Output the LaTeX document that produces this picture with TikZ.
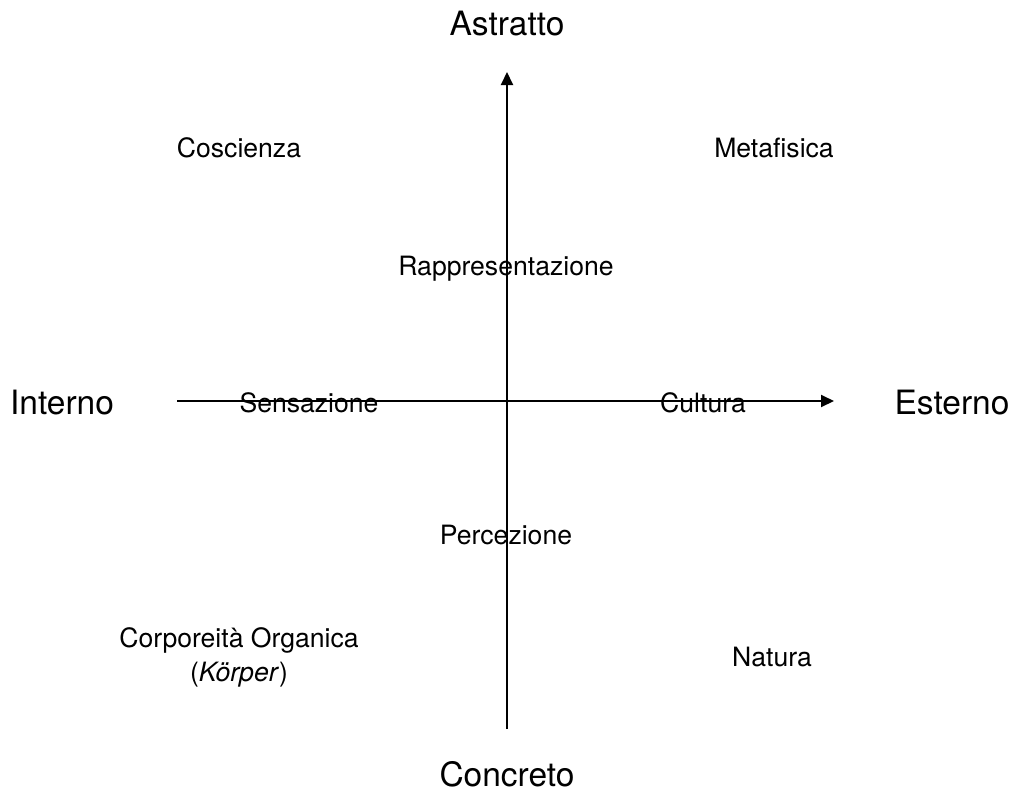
\documentclass[tikz,border=0pt]{standalone}
\usepackage{fontspec}
\setmainfont{TeX Gyre Heros}
\usetikzlibrary{arrows.meta}
\begin{document}
\begin{tikzpicture}[x=1pt,y=-1pt,
  axis/.style={line width=2pt,-{Triangle[length=13pt,width=12pt]}},
  big/.style={font=\fontsize{33.5}{40}\selectfont,inner sep=0pt},
  lab/.style={font=\fontsize{26.6}{34}\selectfont,inner sep=0pt,align=center}]
\useasboundingbox (0,0) rectangle (1013,793);
\coordinate (bot) at (507,729);
\coordinate (top) at (507,72);
\coordinate (lft) at (177,401);
\coordinate (rgt) at (834,401);
\draw[axis] (bot) -- (top);
\draw[axis] (lft) -- (rgt);
\node[big] (astr) at (507,24) {Astratto};
\node[big] (conc) at (507,774) {Concreto};
\node[big] (int) at (62,403) {Interno};
\node[big] (est) at (952,403) {Esterno};
\node[lab] (cos) at (239,148) {Coscienza};
\node[lab] (met) at (774,148) {Metafisica};
\node[lab] (rap) at (506,269) {Rappresentazione};
\node[lab] (sen) at (309,403) {Sensazione};
\node[lab] (cul) at (703,403) {Cultura};
\node[lab] (per) at (506,535) {Percezione};
\node[lab] (cor) at (239,657) {Corporeità Organica\\(\textit{Körper})};
\node[lab] (nat) at (772,657) {Natura};
\end{tikzpicture}
\end{document}
